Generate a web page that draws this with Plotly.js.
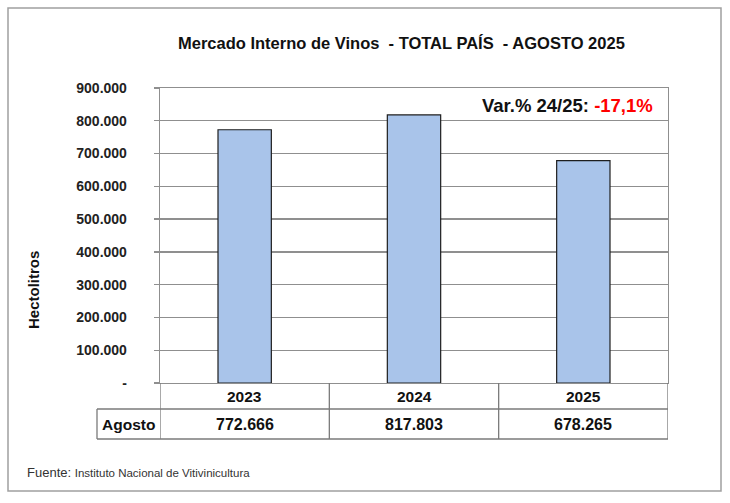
<!DOCTYPE html>
<html>
<head>
<meta charset="utf-8">
<script src="https://cdn.plot.ly/plotly-3.0.1.min.js"></script>
<style>html,body{margin:0;padding:0;background:#fff;}#chart{width:730px;height:503px;}</style>
</head>
<body>
<div id="chart"></div>
<script>
// Data
const years = ['2023', '2024', '2025'];
const values = [772666, 817803, 678265];
const rowLabel = 'Agosto';
const yTickVals = [0, 100000, 200000, 300000, 400000, 500000, 600000, 700000, 800000, 900000];
const yTickText = ['-', '100.000', '200.000', '300.000', '400.000', '500.000', '600.000', '700.000', '800.000', '900.000'];
const titleText = 'Mercado Interno de Vinos\u00a0\u00a0- TOTAL PAÍS\u00a0\u00a0- AGOSTO 2025';
const varLabel = 'Var.% 24/25: ';
const varValue = '-17,1%';
const yTitle = 'Hectolitros';
const sourceLabel = 'Fuente:';
const sourceText = 'Instituto Nacional de Vitivinicultura';

function fmt(v) { return String(v).replace(/\B(?=(\d{3})+(?!\d))/g, '.'); }

// Pixel -> paper helpers (plot area: x 160..668, y 88..383)
const L = 160, R = 668, T = 88, B = 383;
const px = x => (x - L) / (R - L);
const py = y => (B - y) / (B - T);

const FONT = 'Liberation Sans, Arial, sans-serif';
const gridCol = '#8f8f8f';
const tableCol = '#7a7a7a';

const trace = {
  type: 'bar',
  x: years,
  y: values,
  width: 0.315,
  marker: { color: '#a9c4ea', line: { color: '#1e1e1e', width: 1.2 } },
  hoverinfo: 'x+y'
};

const annotations = [];
annotations.push({ xref: 'paper', yref: 'paper', x: px(401), y: py(43), text: '<b>' + titleText + '</b>', showarrow: false,
  xanchor: 'center', yanchor: 'middle', font: { family: FONT, size: 16.5, color: '#111' } });
annotations.push({ xref: 'paper', yref: 'paper', x: px(655), y: py(105),
  text: '<b>' + varLabel + '<span style="color:#ff0000">' + varValue + '</span></b>',
  showarrow: false, xanchor: 'right', yanchor: 'middle', font: { family: FONT, size: 18.5, color: '#111' } });
annotations.push({ xref: 'paper', yref: 'paper', x: px(33), y: py(290), text: '<b>' + yTitle + '</b>', textangle: -90,
  showarrow: false, xanchor: 'center', yanchor: 'middle', font: { family: FONT, size: 15, color: '#111' } });
annotations.push({ xref: 'paper', yref: 'paper', x: px(25), y: py(472),
  text: sourceLabel + ' <span style="font-size:11.5px">' + sourceText + '</span>',
  showarrow: false, xanchor: 'left', yanchor: 'middle', font: { family: FONT, size: 13, color: '#333' } });
annotations.push({ xref: 'paper', yref: 'paper', x: px(128.5), y: py(424), text: '<b>' + rowLabel + '</b>',
  showarrow: false, xanchor: 'center', yanchor: 'middle', font: { family: FONT, size: 15.5, color: '#111' } });
years.forEach((yr, i) => {
  const cx = (i + 0.5) / years.length; // centre of category i in paper units
  annotations.push({ xref: 'paper', yref: 'paper', x: cx, y: py(396), text: '<b>' + yr + '</b>',
    showarrow: false, xanchor: 'center', yanchor: 'middle', font: { family: FONT, size: 15.5, color: '#111' } });
  annotations.push({ xref: 'paper', yref: 'paper', x: cx, y: py(424), text: '<b>' + fmt(values[i]) + '</b>',
    showarrow: false, xanchor: 'center', yanchor: 'middle', font: { family: FONT, size: 16, color: '#111' } });
});

const shapes = [];
// outer frame
shapes.push({ type: 'rect', xref: 'paper', yref: 'paper', x0: px(8), x1: px(721), y0: py(491), y1: py(8),
  line: { color: '#a0a0a0', width: 1.5 }, fillcolor: 'rgba(0,0,0,0)', layer: 'below' });
// table horizontal lines
[409, 439].forEach(y => shapes.push({ type: 'line', xref: 'paper', yref: 'paper', x0: px(97), x1: 1, y0: py(y), y1: py(y),
  line: { color: tableCol, width: 1.3 } }));
// table vertical lines at category boundaries
[-0.5, 0.5, 1.5, 2.5].forEach(c => shapes.push({ type: 'line', xref: 'x', yref: 'paper', x0: c, x1: c, y0: py(439), y1: 0,
  line: { color: tableCol, width: 1.3 } }));
// Agosto cell left border
shapes.push({ type: 'line', xref: 'paper', yref: 'paper', x0: px(97), x1: px(97), y0: py(439), y1: py(409),
  line: { color: tableCol, width: 1.3 } });

const layout = {
  width: 730, height: 503,
  margin: { l: L, r: 730 - R, t: T, b: 503 - B, pad: 0 },
  paper_bgcolor: '#ffffff', plot_bgcolor: '#ffffff',
  showlegend: false,
  xaxis: { type: 'category', range: [-0.5, 2.5], showticklabels: false, ticks: '', showgrid: false,
    showline: true, mirror: true, linecolor: gridCol, linewidth: 1.3, zeroline: false, fixedrange: true },
  yaxis: { range: [0, 900000], tickvals: yTickVals, ticktext: yTickText, ticks: 'outside', ticklen: 5,
    tickcolor: gridCol, tickwidth: 1.3, ticklabelstandoff: 24,
    tickfont: { family: FONT, size: 14, color: '#222', weight: 'bold' },
    showgrid: true, gridcolor: gridCol, gridwidth: 1.3, showline: true, mirror: true, linecolor: gridCol, linewidth: 1.3,
    zeroline: false, fixedrange: true },
  annotations: annotations,
  shapes: shapes
};

Plotly.newPlot('chart', [trace], layout, { displayModeBar: false, staticPlot: true });
</script>
</body>
</html>
